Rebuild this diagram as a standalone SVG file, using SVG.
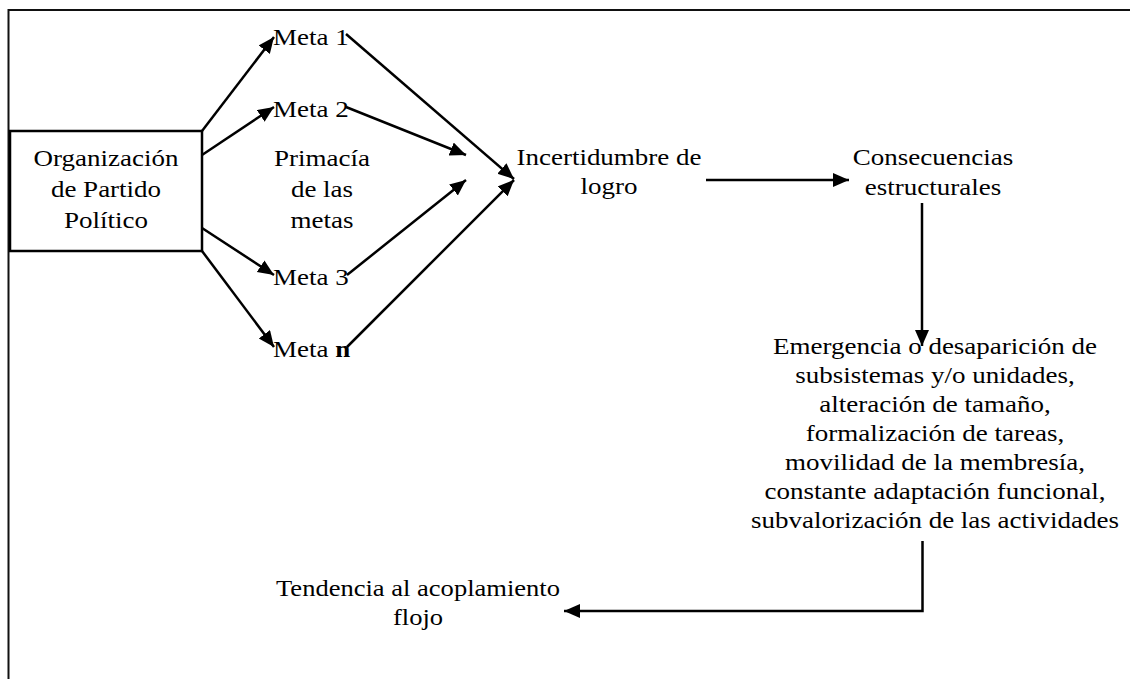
<svg xmlns="http://www.w3.org/2000/svg" width="1130" height="679" viewBox="0 0 1130 679">
<defs>
<style>
.t{font-size:22.5px;fill:#000;text-anchor:middle}
.s{text-anchor:start}
.ln{stroke:#000;stroke-width:2.5;fill:none}
.fr{stroke:#111;stroke-width:2;fill:none}
.ar{marker-end:url(#ah)}
</style>
<marker id="ah" markerUnits="userSpaceOnUse" markerWidth="18" markerHeight="15" refX="16" refY="7" orient="auto">
<path d="M0,0 L16,7 L0,14 z" fill="#000"/>
</marker>
</defs>
<rect width="1130" height="679" fill="#fff"/>
<g id="frame">
<path class="fr" d="M8.5,679 V10 H1130"/>
</g>
<g font-family="Liberation Serif, DejaVu Serif, serif">
<g id="org">
<rect x="10" y="131" width="192" height="120" class="ln"/>
<text class="t" transform="translate(106,166) scale(1.2,1)">Organización</text>
<text class="t" transform="translate(106,197) scale(1.2,1)">de Partido</text>
<text class="t" transform="translate(106,228) scale(1.2,1)">Político</text>
</g>
<g id="primacia">
<text class="t" transform="translate(322,166) scale(1.2,1)">Primacía</text>
<text class="t" transform="translate(322,197) scale(1.2,1)">de las</text>
<text class="t" transform="translate(322,228) scale(1.2,1)">metas</text>
</g>
<g id="meta1"><text class="t s" transform="translate(273,45) scale(1.2,1)">Meta 1</text></g>
<g id="meta2"><text class="t s" transform="translate(273,117) scale(1.2,1)">Meta 2</text></g>
<g id="meta3"><text class="t s" transform="translate(273,285) scale(1.2,1)">Meta 3</text></g>
<g id="metan"><text class="t s" transform="translate(273,357) scale(1.2,1)">Meta <tspan font-weight="bold">n</tspan></text></g>
<g id="incertidumbre">
<text class="t" transform="translate(609,165) scale(1.2,1)">Incertidumbre de</text>
<text class="t" transform="translate(609,194) scale(1.2,1)">logro</text>
</g>
<g id="consecuencias">
<text class="t" transform="translate(933,165) scale(1.2,1)">Consecuencias</text>
<text class="t" transform="translate(933,195) scale(1.2,1)">estructurales</text>
</g>
<g id="emergencia">
<text class="t" transform="translate(935,354) scale(1.2,1)">Emergencia o desaparición de</text>
<text class="t" transform="translate(935,383) scale(1.2,1)">subsistemas y/o unidades,</text>
<text class="t" transform="translate(935,412) scale(1.2,1)">alteración de tamaño,</text>
<text class="t" transform="translate(935,441) scale(1.2,1)">formalización de tareas,</text>
<text class="t" transform="translate(935,470) scale(1.2,1)">movilidad de la membresía,</text>
<text class="t" transform="translate(935,499) scale(1.2,1)">constante adaptación funcional,</text>
<text class="t" transform="translate(935,528) scale(1.2,1)">subvalorización de las actividades</text>
</g>
<g id="tendencia">
<text class="t" transform="translate(418,596) scale(1.18,1)">Tendencia al acoplamiento</text>
<text class="t" transform="translate(418,625) scale(1.18,1)">flojo</text>
</g>
</g>
<g id="connectors">
<line class="ln ar" x1="202" y1="131" x2="274" y2="37"/>
<line class="ln ar" x1="202" y1="155" x2="274" y2="107"/>
<line class="ln ar" x1="202" y1="228" x2="274" y2="275"/>
<line class="ln ar" x1="202" y1="251" x2="274" y2="347"/>
<line class="ln ar" x1="346" y1="34" x2="514" y2="179"/>
<line class="ln ar" x1="346" y1="107" x2="466" y2="155"/>
<line class="ln ar" x1="347" y1="275" x2="466" y2="180"/>
<line class="ln ar" x1="347" y1="347" x2="514" y2="180"/>
<line class="ln ar" x1="706" y1="180" x2="849" y2="180"/>
<line class="ln ar" x1="922" y1="203" x2="922" y2="346"/>
<path class="ln ar" d="M922.5,541 V611 H564"/>
</g>
</svg>
